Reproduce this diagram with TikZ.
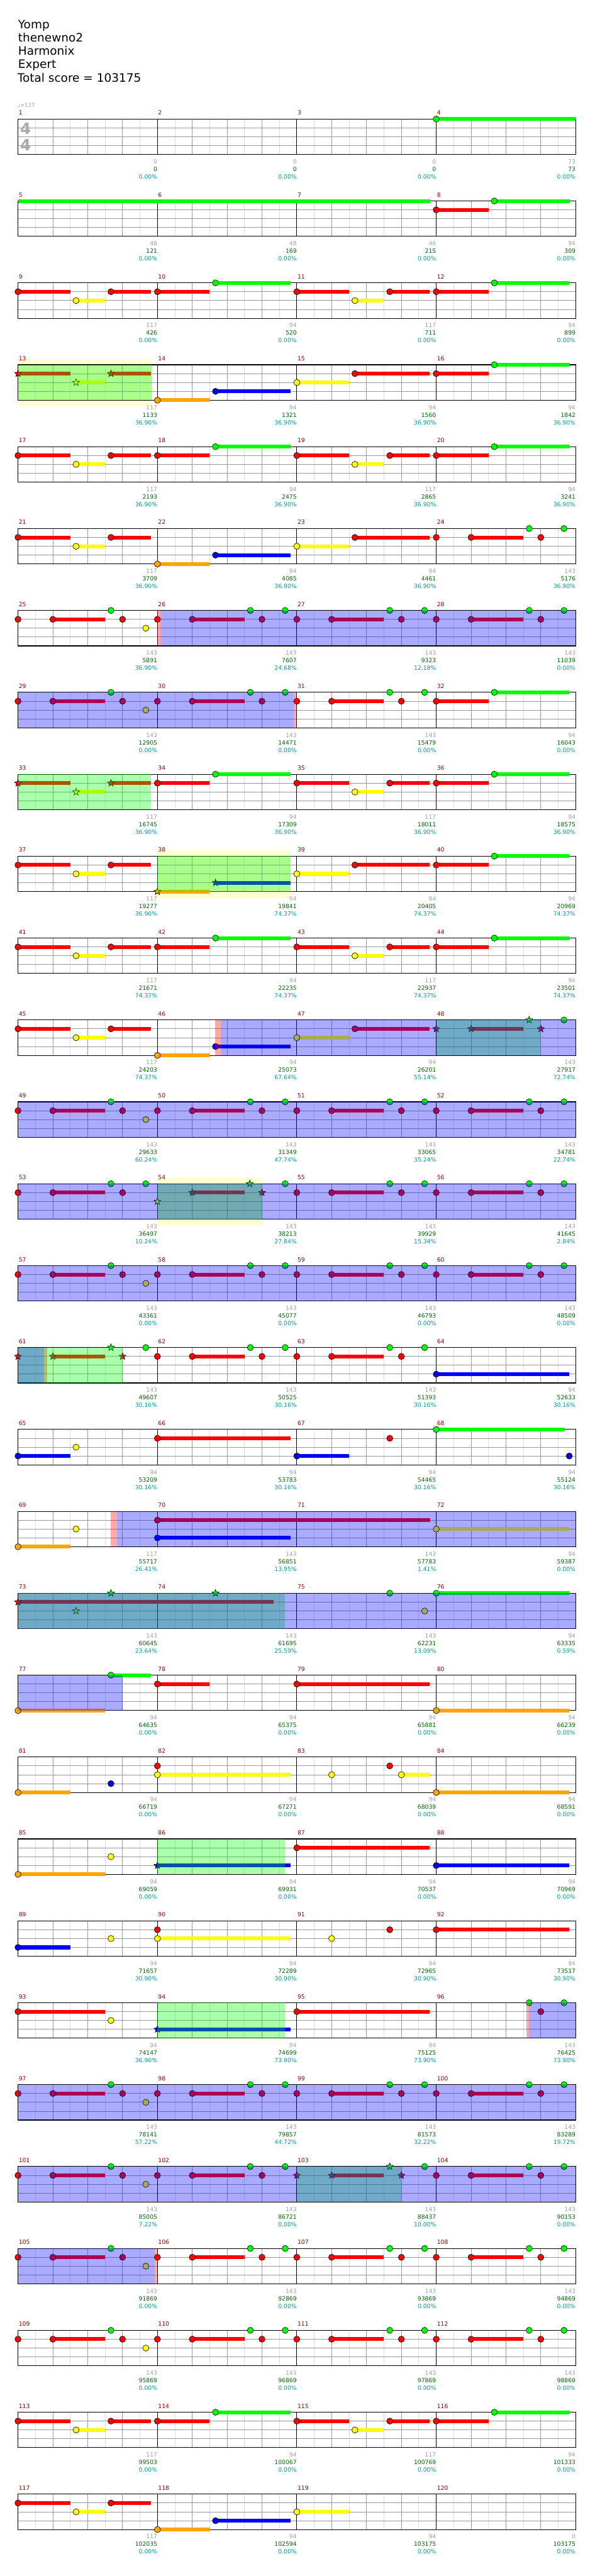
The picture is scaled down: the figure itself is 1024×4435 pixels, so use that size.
\documentclass[tikz,border=0pt]{standalone}
\usepackage{fontspec}
\setmainfont{DejaVu Sans}
\usetikzlibrary{shapes.geometric}
\definecolor{nR}{HTML}{FF0000}
\definecolor{nG}{HTML}{00FF00}
\definecolor{nY}{HTML}{FFFF00}
\definecolor{nB}{HTML}{0000FF}
\definecolor{nO}{HTML}{FFA500}
\definecolor{lgc}{HTML}{DDDDDD}
\definecolor{mgc}{HTML}{999999}
\definecolor{paley}{HTML}{FFFFD0}
\definecolor{lgray}{HTML}{A0A0A0}
\definecolor{lgreen}{HTML}{006400}
\definecolor{lteal}{HTML}{009B9B}
\definecolor{mred}{HTML}{8B0000}
\definecolor{tsg}{HTML}{AAAAAA}
\tikzset{
 nt/.style={draw=black,line width=0.5pt},
 lab/.style={font=\fontsize{7.5}{9}\selectfont,anchor=base east,inner sep=0pt},
 mnum/.style={font=\fontsize{7.5}{9}\selectfont,anchor=base west,inner sep=0pt,text=mred},
 ttl/.style={font=\fontsize{15}{18}\selectfont,anchor=base west,inner sep=0pt},
 starnote/.style={star,star points=5,star point ratio=2.3,minimum size=9.5pt,inner sep=0pt,draw=black,line width=0.5pt},
}
\newcommand\Nt[5]{\filldraw[nt,fill=#5] ({31+240*#2+#3},{205+141*#1+15.25*#4}) circle[radius=4pt];}
\newcommand\Sg[6]{\draw[line width=4.9pt,draw=#6] ({31+240*#2+#3},{205+141*#1+15.25*#5}) -- ({31+240*#2+#4},{205+141*#1+15.25*#5});}
\newcommand\Sr[5]{\node[starnote,fill=#5] at ({31+240*#2+#3},{205+141*#1+15.25*#4}) {};}
\newcommand\Ov[4]{\fill[#4,opacity=0.3333] ({31+#2},{205+141*#1}) rectangle ({31+#3},{205+141*#1+61});}
\newcommand\Pb[3]{\fill[paley] ({31+#2},{205+141*#1-10}) rectangle ({31+#3},{205+141*#1+71.7});}
\newcommand\Staff[1]{%
 \foreach \i in {1,3,...,31} \draw[lgc,line width=0.75pt] ({31+30*\i},{205+141*#1}) -- ++(0,61);
 \foreach \i in {2,4,...,30} \draw[mgc,line width=0.75pt] ({31+30*\i},{205+141*#1}) -- ++(0,61);
 \foreach \l in {1,2,3} \draw[mgc,line width=0.75pt] (31,{205+141*#1+15.25*\l}) -- (991,{205+141*#1+15.25*\l});
 \foreach \i in {8,16,24} \draw[black,line width=0.75pt] ({31+30*\i},{205+141*#1}) -- ++(0,61);
 \draw[black,line width=0.9pt] (31,{205+141*#1}) rectangle (991,{205+141*#1+61});
}
\newcommand\Mn[2]{\foreach \j in {0,1,2,3} {\pgfmathtruncatemacro\mm{#2+\j}\node[mnum] at ({32+240*\j},{205+141*#1-7}) {\mm};}}
\newcommand\Lab[5]{%
 \node[lab,text=lgray] at ({31+240*(#2+1)},{205+141*#1+77}) {#3};
 \node[lab,text=lgreen] at ({31+240*(#2+1)},{205+141*#1+90}) {#4};
 \node[lab,text=lteal] at ({31+240*(#2+1)},{205+141*#1+103}) {#5};}
\newcommand\PA[2]{\Sg{#1}{#2}{0}{90}{1}{nR}\Nt{#1}{#2}{0}{1}{nR}\Sg{#1}{#2}{100}{150}{2}{nY}\Nt{#1}{#2}{100}{2}{nY}\Sg{#1}{#2}{160}{229}{1}{nR}\Nt{#1}{#2}{160}{1}{nR}}
\newcommand\PAs[2]{\Sg{#1}{#2}{0}{90}{1}{nR}\Sr{#1}{#2}{0}{1}{nR}\Sg{#1}{#2}{100}{150}{2}{nY}\Sr{#1}{#2}{100}{2}{nY}\Sg{#1}{#2}{160}{229}{1}{nR}\Sr{#1}{#2}{160}{1}{nR}}
\newcommand\PB[2]{\Sg{#1}{#2}{0}{90}{1}{nR}\Nt{#1}{#2}{0}{1}{nR}\Sg{#1}{#2}{100}{229}{0}{nG}\Nt{#1}{#2}{100}{0}{nG}}
\newcommand\PD[2]{\Sg{#1}{#2}{0}{90}{4}{nO}\Nt{#1}{#2}{0}{4}{nO}\Sg{#1}{#2}{100}{229}{3}{nB}\Nt{#1}{#2}{100}{3}{nB}}
\newcommand\PDs[2]{\Sg{#1}{#2}{0}{90}{4}{nO}\Sr{#1}{#2}{0}{4}{nO}\Sg{#1}{#2}{100}{229}{3}{nB}\Sr{#1}{#2}{100}{3}{nB}}
\newcommand\PE[2]{\Sg{#1}{#2}{0}{90}{2}{nY}\Nt{#1}{#2}{0}{2}{nY}\Sg{#1}{#2}{100}{229}{1}{nR}\Nt{#1}{#2}{100}{1}{nR}}
\newcommand\PCb[2]{\Nt{#1}{#2}{0}{1}{nR}\Sg{#1}{#2}{60}{150}{1}{nR}\Nt{#1}{#2}{60}{1}{nR}\Nt{#1}{#2}{160}{0}{nG}\Nt{#1}{#2}{180}{1}{nR}}
\newcommand\PC[2]{\PCb{#1}{#2}\Nt{#1}{#2}{220}{0}{nG}}
\newcommand\PCy[2]{\PCb{#1}{#2}\Nt{#1}{#2}{220}{2}{nY}}
\newcommand\PCs[2]{\Sr{#1}{#2}{0}{1}{nR}\Sg{#1}{#2}{60}{150}{1}{nR}\Sr{#1}{#2}{60}{1}{nR}\Sr{#1}{#2}{160}{0}{nG}\Sr{#1}{#2}{180}{1}{nR}\Nt{#1}{#2}{220}{0}{nG}}
\begin{document}
\begin{tikzpicture}[x=0.75pt,y=-0.75pt]
\useasboundingbox (0,0) rectangle (1024,4435);
\fill[white] (0,0) rectangle (1024,4435);
% title
\node[ttl] (t1) at (31,49) {Yomp};
\node[ttl] (t2) at (31,72) {thenewno2};
\node[ttl] (t3) at (31,95) {Harmonix};
\node[ttl] (t4) at (31,118) {Expert};
\node[ttl] (t5) at (30,141) {Total score = 103175};
\node[anchor=base west,inner sep=0pt,text=lgray,font=\fontsize{7}{8}\selectfont] (tempo) at (30,185) {♩=137};
% ---------- row 0 : m1-4
\Staff{0}\Mn{0}{1}
\node[text=tsg,font=\bfseries\fontsize{20}{20}\selectfont,inner sep=0pt] (ts1) at (44,221) {4};
\node[text=tsg,font=\bfseries\fontsize{20}{20}\selectfont,inner sep=0pt] (ts2) at (44,250) {4};
\Sg{0}{3}{0}{240}{0}{nG}\Nt{0}{3}{0}{0}{nG}
\Lab{0}{0}{0}{0}{0.00\%}\Lab{0}{1}{0}{0}{0.00\%}\Lab{0}{2}{0}{0}{0.00\%}\Lab{0}{3}{73}{73}{0.00\%}
% ---------- row 1 : m5-8
\Staff{1}\Mn{1}{5}
\Sg{1}{0}{0}{710}{0}{nG}
\Sg{1}{3}{0}{90}{1}{nR}\Nt{1}{3}{0}{1}{nR}\Sg{1}{3}{100}{230}{0}{nG}\Nt{1}{3}{100}{0}{nG}
\Lab{1}{0}{48}{121}{0.00\%}\Lab{1}{1}{48}{169}{0.00\%}\Lab{1}{2}{46}{215}{0.00\%}\Lab{1}{3}{94}{309}{0.00\%}
% ---------- row 2 : m9-12
\Staff{2}\Mn{2}{9}
\PA{2}{0}\PB{2}{1}\PA{2}{2}\PB{2}{3}
\Lab{2}{0}{117}{426}{0.00\%}\Lab{2}{1}{94}{520}{0.00\%}\Lab{2}{2}{117}{711}{0.00\%}\Lab{2}{3}{94}{899}{0.00\%}
% ---------- row 3 : m13-16
\Pb{3}{0}{230}
\Staff{3}\Mn{3}{13}
\PAs{3}{0}\PD{3}{1}\PE{3}{2}\PB{3}{3}
\Ov{3}{0}{230}{nG}
\Lab{3}{0}{117}{1133}{36.90\%}\Lab{3}{1}{94}{1321}{36.90\%}\Lab{3}{2}{94}{1560}{36.90\%}\Lab{3}{3}{94}{1842}{36.90\%}
% ---------- row 4 : m17-20
\Staff{4}\Mn{4}{17}
\PA{4}{0}\PB{4}{1}\PA{4}{2}\PB{4}{3}
\Lab{4}{0}{117}{2193}{36.90\%}\Lab{4}{1}{94}{2475}{36.90\%}\Lab{4}{2}{117}{2865}{36.90\%}\Lab{4}{3}{94}{3241}{36.90\%}
% ---------- row 5 : m21-24
\Staff{5}\Mn{5}{21}
\PA{5}{0}\PD{5}{1}\PE{5}{2}\PC{5}{3}
\Lab{5}{0}{117}{3709}{36.90\%}\Lab{5}{1}{94}{4085}{36.90\%}\Lab{5}{2}{94}{4461}{36.90\%}\Lab{5}{3}{143}{5176}{36.90\%}
% ---------- row 6 : m25-28
\Staff{6}\Mn{6}{25}
\PCy{6}{0}\PC{6}{1}\PC{6}{2}\PC{6}{3}
\Ov{6}{240}{245}{nR}\Ov{6}{245}{960}{nB}
\Lab{6}{0}{143}{5891}{36.90\%}\Lab{6}{1}{143}{7607}{24.68\%}\Lab{6}{2}{143}{9323}{12.18\%}\Lab{6}{3}{143}{11039}{0.00\%}
% ---------- row 7 : m29-32
\Staff{7}\Mn{7}{29}
\PCy{7}{0}\PC{7}{1}\PC{7}{2}\PB{7}{3}
\Ov{7}{0}{475}{nB}\Ov{7}{475}{480}{nR}
\Lab{7}{0}{143}{12905}{0.00\%}\Lab{7}{1}{143}{14471}{0.00\%}\Lab{7}{2}{143}{15479}{0.00\%}\Lab{7}{3}{94}{16043}{0.00\%}
% ---------- row 8 : m33-36
\Staff{8}\Mn{8}{33}
\PAs{8}{0}\PB{8}{1}\PA{8}{2}\PB{8}{3}
\Ov{8}{0}{229}{nG}
\Lab{8}{0}{117}{16745}{36.90\%}\Lab{8}{1}{94}{17309}{36.90\%}\Lab{8}{2}{117}{18011}{36.90\%}\Lab{8}{3}{94}{18575}{36.90\%}
% ---------- row 9 : m37-40
\Pb{9}{240}{469}
\Staff{9}\Mn{9}{37}
\PA{9}{0}\PDs{9}{1}\PE{9}{2}\PB{9}{3}
\Ov{9}{240}{469}{nG}
\Lab{9}{0}{117}{19277}{36.90\%}\Lab{9}{1}{94}{19841}{74.37\%}\Lab{9}{2}{94}{20405}{74.37\%}\Lab{9}{3}{94}{20969}{74.37\%}
% ---------- row 10 : m41-44
\Staff{10}\Mn{10}{41}
\PA{10}{0}\PB{10}{1}\PA{10}{2}\PB{10}{3}
\Lab{10}{0}{117}{21671}{74.37\%}\Lab{10}{1}{94}{22235}{74.37\%}\Lab{10}{2}{117}{22937}{74.37\%}\Lab{10}{3}{94}{23501}{74.37\%}
% ---------- row 11 : m45-48
\Staff{11}\Mn{11}{45}
\PA{11}{0}\PD{11}{1}\PE{11}{2}
\PCs{11}{3}
\Ov{11}{339}{349.5}{nR}\Ov{11}{720}{900}{nG}\Ov{11}{349.5}{960}{nB}
\Lab{11}{0}{117}{24203}{74.37\%}\Lab{11}{1}{94}{25073}{67.64\%}\Lab{11}{2}{94}{26201}{55.14\%}\Lab{11}{3}{143}{27917}{72.74\%}
% ---------- row 12 : m49-52
\Staff{12}\Mn{12}{49}
\PCy{12}{0}\PC{12}{1}\PC{12}{2}\PC{12}{3}
\Ov{12}{0}{960}{nB}
\Lab{12}{0}{143}{29633}{60.24\%}\Lab{12}{1}{143}{31349}{47.74\%}\Lab{12}{2}{143}{33065}{35.24\%}\Lab{12}{3}{143}{34781}{22.74\%}
% ---------- row 13 : m53-56
\Pb{13}{240}{420}
\Staff{13}\Mn{13}{53}
\PC{13}{0}
\Sr{13}{1}{0}{2}{nY}\Sg{13}{1}{60}{150}{1}{nR}\Sr{13}{1}{60}{1}{nR}\Sr{13}{1}{159}{0}{nG}\Sr{13}{1}{180}{1}{nR}\Nt{13}{1}{220}{0}{nG}
\PC{13}{2}\PC{13}{3}
\Ov{13}{240}{420}{nG}\Ov{13}{0}{960}{nB}
\Lab{13}{0}{143}{36497}{10.24\%}\Lab{13}{1}{143}{38213}{27.84\%}\Lab{13}{2}{143}{39929}{15.34\%}\Lab{13}{3}{143}{41645}{2.84\%}
% ---------- row 14 : m57-60
\Staff{14}\Mn{14}{57}
\PCy{14}{0}\PC{14}{1}\PC{14}{2}\PC{14}{3}
\Ov{14}{0}{960}{nB}
\Lab{14}{0}{143}{43361}{0.00\%}\Lab{14}{1}{143}{45077}{0.00\%}\Lab{14}{2}{143}{46793}{0.00\%}\Lab{14}{3}{143}{48509}{0.00\%}
% ---------- row 15 : m61-64
\Staff{15}\Mn{15}{61}
\PCs{15}{0}\PC{15}{1}\PC{15}{2}
\Sg{15}{3}{0}{229}{3}{nB}\Nt{15}{3}{0}{3}{nB}
\Ov{15}{45}{50}{nR}\Ov{15}{0}{180}{nG}\Ov{15}{0}{45}{nB}
\Lab{15}{0}{143}{49607}{30.16\%}\Lab{15}{1}{143}{50525}{30.16\%}\Lab{15}{2}{143}{51393}{30.16\%}\Lab{15}{3}{94}{52633}{30.16\%}
% ---------- row 16 : m65-68
\Staff{16}\Mn{16}{65}
\Sg{16}{0}{0}{90}{3}{nB}\Nt{16}{0}{0}{3}{nB}\Nt{16}{0}{100}{2}{nY}
\Sg{16}{1}{0}{229}{1}{nR}\Nt{16}{1}{0}{1}{nR}
\Sg{16}{2}{0}{90}{3}{nB}\Nt{16}{2}{0}{3}{nB}\Nt{16}{2}{160}{1}{nR}
\Sg{16}{3}{0}{220}{0}{nG}\Nt{16}{3}{0}{0}{nG}\Nt{16}{3}{229}{3}{nB}
\Lab{16}{0}{94}{53209}{30.16\%}\Lab{16}{1}{94}{53783}{30.16\%}\Lab{16}{2}{94}{54465}{30.16\%}\Lab{16}{3}{94}{55124}{30.16\%}
% ---------- row 17 : m69-72
\Staff{17}\Mn{17}{69}
\Sg{17}{0}{0}{90}{4}{nO}\Nt{17}{0}{0}{4}{nO}\Nt{17}{0}{100}{2}{nY}
\Sg{17}{1}{0}{470}{1}{nR}\Nt{17}{1}{0}{1}{nR}\Sg{17}{1}{0}{229}{3}{nB}\Nt{17}{1}{0}{3}{nB}
\Sg{17}{3}{0}{229}{2}{nY}\Nt{17}{3}{0}{2}{nY}
\Ov{17}{160}{170}{nR}\Ov{17}{170}{960}{nB}
\Lab{17}{0}{117}{55717}{26.41\%}\Lab{17}{1}{143}{56851}{13.95\%}\Lab{17}{2}{143}{57783}{1.41\%}\Lab{17}{3}{94}{59387}{0.00\%}
% ---------- row 18 : m73-76
\Staff{18}\Mn{18}{73}
\Sg{18}{0}{0}{440}{1}{nR}\Sr{18}{0}{0}{1}{nR}\Sr{18}{0}{100}{2}{nY}\Sr{18}{0}{160}{0}{nG}\Sr{18}{1}{100}{0}{nG}
\Nt{18}{2}{160}{0}{nG}\Nt{18}{2}{220}{2}{nY}
\Sg{18}{3}{0}{229}{0}{nG}\Nt{18}{3}{0}{0}{nG}
\Ov{18}{0}{460}{nG}\Ov{18}{0}{960}{nB}
\Lab{18}{0}{143}{60645}{23.64\%}\Lab{18}{1}{143}{61695}{25.59\%}\Lab{18}{2}{143}{62231}{13.09\%}\Lab{18}{3}{94}{63335}{0.59\%}
% ---------- row 19 : m77-80
\Staff{19}\Mn{19}{77}
\Sg{19}{0}{0}{150}{4}{nO}\Nt{19}{0}{0}{4}{nO}\Sg{19}{0}{160}{229}{0}{nG}\Nt{19}{0}{160}{0}{nG}
\Sg{19}{1}{0}{90}{1}{nR}\Nt{19}{1}{0}{1}{nR}
\Sg{19}{2}{0}{229}{1}{nR}\Nt{19}{2}{0}{1}{nR}
\Sg{19}{3}{0}{229}{4}{nO}\Nt{19}{3}{0}{4}{nO}
\Ov{19}{0}{180}{nB}
\Lab{19}{0}{94}{64635}{0.00\%}\Lab{19}{1}{94}{65375}{0.00\%}\Lab{19}{2}{94}{65881}{0.00\%}\Lab{19}{3}{94}{66239}{0.00\%}
% ---------- row 20 : m81-84
\Staff{20}\Mn{20}{81}
\Sg{20}{0}{0}{90}{4}{nO}\Nt{20}{0}{0}{4}{nO}\Nt{20}{0}{160}{3}{nB}
\Nt{20}{1}{0}{1}{nR}\Sg{20}{1}{0}{229}{2}{nY}\Nt{20}{1}{0}{2}{nY}
\Nt{20}{2}{60}{2}{nY}\Nt{20}{2}{160}{1}{nR}\Sg{20}{2}{180}{229}{2}{nY}\Nt{20}{2}{180}{2}{nY}
\Sg{20}{3}{0}{229}{4}{nO}\Nt{20}{3}{0}{4}{nO}
\Lab{20}{0}{94}{66719}{0.00\%}\Lab{20}{1}{94}{67271}{0.00\%}\Lab{20}{2}{94}{68039}{0.00\%}\Lab{20}{3}{94}{68591}{0.00\%}
% ---------- row 21 : m85-88
\Staff{21}\Mn{21}{85}
\Sg{21}{0}{0}{150}{4}{nO}\Nt{21}{0}{0}{4}{nO}\Nt{21}{0}{160}{2}{nY}
\Sg{21}{1}{0}{229}{3}{nB}\Sr{21}{1}{0}{3}{nB}
\Sg{21}{2}{0}{229}{1}{nR}\Nt{21}{2}{0}{1}{nR}
\Sg{21}{3}{0}{229}{3}{nB}\Nt{21}{3}{0}{3}{nB}
\Ov{21}{240}{460}{nG}
\Lab{21}{0}{94}{69059}{0.00\%}\Lab{21}{1}{94}{69931}{0.00\%}\Lab{21}{2}{94}{70537}{0.00\%}\Lab{21}{3}{94}{70969}{0.00\%}
% ---------- row 22 : m89-92
\Staff{22}\Mn{22}{89}
\Sg{22}{0}{0}{90}{3}{nB}\Nt{22}{0}{0}{3}{nB}\Nt{22}{0}{160}{2}{nY}
\Nt{22}{1}{0}{1}{nR}\Sg{22}{1}{0}{229}{2}{nY}\Nt{22}{1}{0}{2}{nY}
\Nt{22}{2}{60}{2}{nY}\Nt{22}{2}{160}{1}{nR}
\Sg{22}{3}{0}{229}{1}{nR}\Nt{22}{3}{0}{1}{nR}
\Lab{22}{0}{94}{71657}{30.90\%}\Lab{22}{1}{94}{72289}{30.90\%}\Lab{22}{2}{94}{72965}{30.90\%}\Lab{22}{3}{94}{73517}{30.90\%}
% ---------- row 23 : m93-96
\Staff{23}\Mn{23}{93}
\Sg{23}{0}{0}{150}{1}{nR}\Nt{23}{0}{0}{1}{nR}\Nt{23}{0}{160}{2}{nY}
\Sg{23}{1}{0}{229}{3}{nB}\Sr{23}{1}{0}{3}{nB}
\Sg{23}{2}{0}{229}{1}{nR}\Nt{23}{2}{0}{1}{nR}
\Nt{23}{3}{160}{0}{nG}\Nt{23}{3}{180}{1}{nR}\Nt{23}{3}{220}{0}{nG}
\Ov{23}{240}{460}{nG}\Ov{23}{875}{880}{nR}\Ov{23}{880}{960}{nB}
\Lab{23}{0}{94}{74147}{36.90\%}\Lab{23}{1}{94}{74699}{73.90\%}\Lab{23}{2}{94}{75125}{73.90\%}\Lab{23}{3}{143}{76425}{73.90\%}
% ---------- row 24 : m97-100
\Staff{24}\Mn{24}{97}
\PCy{24}{0}\PC{24}{1}\PC{24}{2}\PC{24}{3}
\Ov{24}{0}{960}{nB}
\Lab{24}{0}{143}{78141}{57.22\%}\Lab{24}{1}{143}{79857}{44.72\%}\Lab{24}{2}{143}{81573}{32.22\%}\Lab{24}{3}{143}{83289}{19.72\%}
% ---------- row 25 : m101-104
\Staff{25}\Mn{25}{101}
\PCy{25}{0}\PC{25}{1}\PCs{25}{2}\PC{25}{3}
\Ov{25}{480}{660}{nG}\Ov{25}{0}{960}{nB}
\Lab{25}{0}{143}{85005}{7.22\%}\Lab{25}{1}{143}{86721}{0.00\%}\Lab{25}{2}{143}{88437}{10.00\%}\Lab{25}{3}{143}{90153}{0.00\%}
% ---------- row 26 : m105-108
\Staff{26}\Mn{26}{105}
\PCy{26}{0}\PC{26}{1}\PC{26}{2}\PC{26}{3}
\Ov{26}{0}{235}{nB}\Ov{26}{235}{240}{nR}
\Lab{26}{0}{143}{91869}{0.00\%}\Lab{26}{1}{143}{92869}{0.00\%}\Lab{26}{2}{143}{93869}{0.00\%}\Lab{26}{3}{143}{94869}{0.00\%}
% ---------- row 27 : m109-112
\Staff{27}\Mn{27}{109}
\PCy{27}{0}\PC{27}{1}\PC{27}{2}\PC{27}{3}
\Lab{27}{0}{143}{95869}{0.00\%}\Lab{27}{1}{143}{96869}{0.00\%}\Lab{27}{2}{143}{97869}{0.00\%}\Lab{27}{3}{143}{98869}{0.00\%}
% ---------- row 28 : m113-116
\Staff{28}\Mn{28}{113}
\PA{28}{0}\PB{28}{1}\PA{28}{2}\PB{28}{3}
\Lab{28}{0}{117}{99503}{0.00\%}\Lab{28}{1}{94}{100067}{0.00\%}\Lab{28}{2}{117}{100769}{0.00\%}\Lab{28}{3}{94}{101333}{0.00\%}
% ---------- row 29 : m117-120
\Staff{29}\Mn{29}{117}
\PA{29}{0}\PD{29}{1}
\Sg{29}{2}{0}{90}{2}{nY}\Nt{29}{2}{0}{2}{nY}
\Lab{29}{0}{117}{102035}{0.00\%}\Lab{29}{1}{94}{102594}{0.00\%}\Lab{29}{2}{94}{103175}{0.00\%}\Lab{29}{3}{0}{103175}{0.00\%}
\end{tikzpicture}
\end{document}
